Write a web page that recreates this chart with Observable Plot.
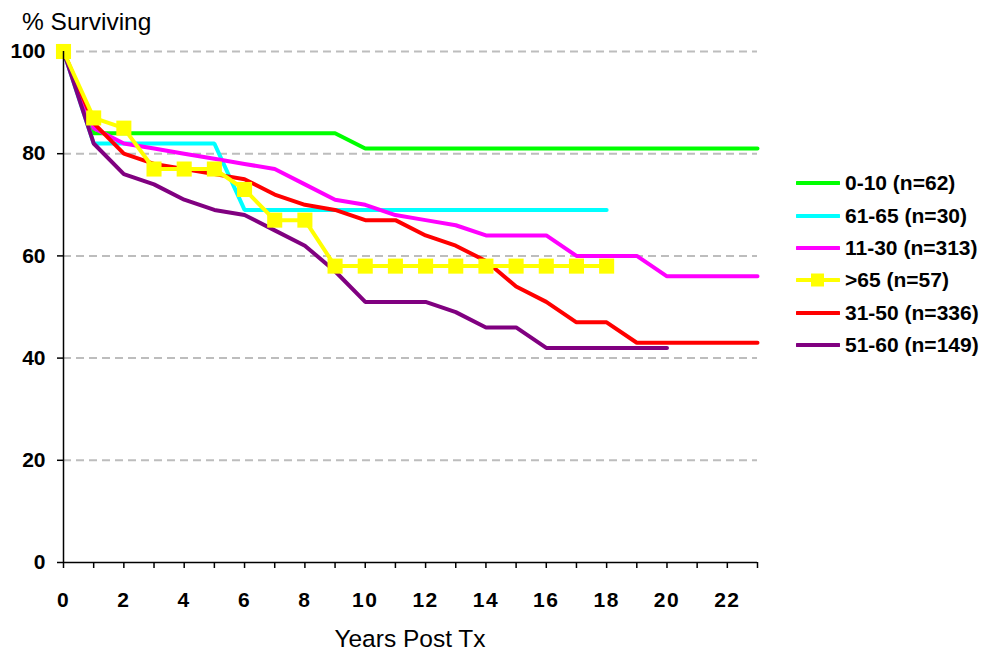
<!DOCTYPE html>
<html>
<head>
<meta charset="utf-8">
<script src="https://cdn.jsdelivr.net/npm/d3@7"></script>
<script src="https://cdn.jsdelivr.net/npm/@observablehq/plot@0.6"></script>
<style>
  html, body { margin: 0; padding: 0; background: #fff; }
  #wrap { position: relative; width: 987px; height: 655px; font-family: "Liberation Sans", Arial, sans-serif; }
  #title { position: absolute; left: 22px; top: 8px; font-size: 24.5px; color: #000; white-space: nowrap; }
  #xlabel { position: absolute; left: 310px; width: 200px; text-align: center; top: 625px; font-size: 24.5px; color: #000; white-space: nowrap; }
  #legend { position: absolute; left: 796px; top: 167px; }
  .lg-row { display: flex; align-items: center; height: 32.4px; font-size: 21px; font-weight: bold; color: #000; white-space: nowrap; }
  .lg-row svg { margin-right: 5px; }
  .xax text { letter-spacing: 1.5px; }
</style>
</head>
<body>
<div id="wrap">
  <div id="chart"></div>
  <div id="title">% Surviving</div>
  <div id="xlabel">Years Post Tx</div>
  <div id="legend"></div>
</div>
<script>
// ---- data ----
const years = [0,1,2,3,4,5,6,7,8,9,10,11,12,13,14,15,16,17,18,19,20,21,22,23];
const seriesLabels = ["0-10 (n=62)", "61-65 (n=30)", "11-30 (n=313)", ">65 (n=57)", "31-50 (n=336)", "51-60 (n=149)"];
const seriesColors = ["#00ff00", "#00ffff", "#ff00ff", "#ffff00", "#ff0000", "#800080"];
const grp0to10   = [100,84,84,84,84,84,84,84,84,84,81,81,81,81,81,81,81,81,81,81,81,81,81,81];
const grp61to65  = [100,82,82,82,82,82,69,69,69,69,69,69,69,69,69,69,69,69,69];
const grp11to30  = [100,85,82,81,80,79,78,77,74,71,70,68,67,66,64,64,64,60,60,60,56,56,56,56];
const grpOver65  = [100,87,85,77,77,77,73,67,67,58,58,58,58,58,58,58,58,58,58];
const grp31to50  = [100,86,80,78,77,76,75,72,70,69,67,67,64,62,59,54,51,47,47,43,43,43,43,43];
const grp51to60  = [100,82,76,74,71,69,68,65,62,57,51,51,51,49,46,46,42,42,42,42,42];
const yTicks = [0,20,40,60,80,100];
const gridValues = [20,40,60,80,100];

const seriesValues = [grp0to10, grp61to65, grp11to30, grpOver65, grp31to50, grp51to60];
const rows = [];
seriesValues.forEach((vals, s) => {
  vals.forEach((v, i) => rows.push({series: seriesLabels[s], year: years[i], pct: v}));
});
const sub = (s) => rows.filter(r => r.series === seriesLabels[s]);

const lineOpts = (s) => ({x: "year", y: "pct", stroke: seriesColors[s], strokeWidth: 4, strokeLinejoin: "miter"});
const font = "'Liberation Sans', Arial, sans-serif";

const chart = Plot.plot({
  width: 987,
  height: 655,
  marginLeft: 63,
  marginRight: 230,
  marginTop: 51,
  marginBottom: 93,
  style: {fontFamily: font, fontSize: "21px", fontWeight: "bold", color: "#000", background: "#fff"},
  x: {domain: [0, 23]},
  y: {domain: [0, 100]},
  marks: [
    Plot.ruleY(gridValues, {stroke: "#bdbdbd", strokeWidth: 2, strokeDasharray: "8,5"}),
    Plot.axisX(years, {className: "xax", tickSize: 6, tickPadding: 24, tickFormat: d => d % 2 === 0 ? String(d) : "", label: null, stroke: "#000", strokeWidth: 1.5, fontSize: 21, fontWeight: "bold", fontFamily: font, fill: "#000"}),
    Plot.axisY(yTicks, {tickSize: 6, tickPadding: 12, label: null, stroke: "#000", strokeWidth: 1.5, fontSize: 21, fontWeight: "bold", fontFamily: font, fill: "#000"}),
    Plot.line(sub(0), lineOpts(0)),
    Plot.line(sub(1), lineOpts(1)),
    Plot.line(sub(2), lineOpts(2)),
    Plot.line(sub(4), lineOpts(4)),
    Plot.line(sub(5), lineOpts(5)),
    Plot.line(sub(3), lineOpts(3)),
    Plot.dot(sub(3), {x: "year", y: "pct", symbol: "square", r: 8.5, fill: seriesColors[3], stroke: "none"}),
    Plot.ruleX([0], {stroke: "#000", strokeWidth: 1.5}),
    Plot.ruleY([0], {stroke: "#000", strokeWidth: 1.5})
  ]
});
document.getElementById("chart").appendChild(chart);

// ---- legend ----
const legend = document.getElementById("legend");
seriesLabels.forEach((lab, i) => {
  const row = document.createElement("div");
  row.className = "lg-row";
  const marker = i === 3 ? `<rect x="15" y="4.5" width="13" height="13" fill="${seriesColors[i]}"/>` : "";
  row.innerHTML = `<svg width="44" height="22"><line x1="1" x2="43" y1="11" y2="11" stroke="${seriesColors[i]}" stroke-width="4" stroke-linecap="round"/>${marker}</svg><span>${lab}</span>`;
  legend.appendChild(row);
});
</script>
</body>
</html>
